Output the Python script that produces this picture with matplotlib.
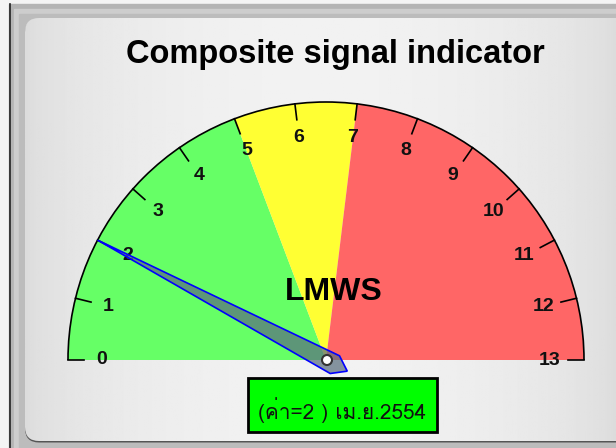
import numpy as np
import matplotlib
matplotlib.use("Agg")
import matplotlib.pyplot as plt
from matplotlib.patches import Wedge, Polygon, Circle, Rectangle, FancyBboxPatch, Arc
from matplotlib import font_manager, ft2font

# data
title = "Composite signal indicator"
center_label = "LMWS"
vmin, vmax = 0, 13
tick_values = list(range(0, 14))
band_edges = [0, 5, 7, 13]
band_colors = ["#66ff66", "#ffff33", "#ff6666"]
needle_value = 2
info_text = "(ค่า=2 ) เม.ย.2554"


def find_thai_font():
    # look for any installed font that has Thai glyphs
    for f in font_manager.fontManager.ttflist:
        try:
            cm = ft2font.FT2Font(f.fname).get_charmap()
        except Exception:
            continue
        if ord("ค") in cm and ord("่") in cm:
            return f.name
    return None


thai = find_thai_font()

W, H = 616, 448
fig = plt.figure(figsize=(W / 100, H / 100), dpi=100)
ax = fig.add_axes([0, 0, 1, 1])
ax.set_xlim(0, W)
ax.set_ylim(0, H)
ax.axis("off")

# outer frame
ax.add_patch(Rectangle((0, 0), W, H, color="#f4f4f4", zorder=0))
ax.add_patch(Rectangle((9, 0), W, H - 4, color="#b4b4b4", zorder=0))
ax.plot([9.5, 9.5], [0, H - 4], color="#222222", lw=1.2, zorder=0.5)
ax.add_patch(Rectangle((14, 0), W, H - 9, color="#cdcdcd", zorder=0.6))
ax.add_patch(Rectangle((19, 0), W, H - 14, color="#bcbcbc", zorder=0.7))

# panel with gradient
panel = FancyBboxPatch((25, 7), W, H - 25, boxstyle="round,pad=0,rounding_size=14",
                       facecolor="none", edgecolor="none", zorder=1)
ax.add_patch(panel)
ax.add_patch(FancyBboxPatch((25, 5.5), W, H - 25, boxstyle="round,pad=0,rounding_size=14",
                            facecolor="#555555", edgecolor="none", zorder=0.9))
xs = np.linspace(0, 1, 300)
grad = 0.86 + 0.088 * np.sin(np.pi * xs) ** 0.6
img = ax.imshow(np.tile(grad, (2, 1)), cmap="gray", vmin=0, vmax=1, aspect="auto",
                extent=(25, W, 7, H - 18), zorder=1)
img.set_clip_path(panel)

cx, cy, R = 326, 88, 258


def ang(v):
    return 180 - (v - vmin) * 180 / (vmax - vmin)


# colour bands
for i, col in enumerate(band_colors):
    ax.add_patch(Wedge((cx, cy), R, ang(band_edges[i + 1]), ang(band_edges[i]),
                       facecolor=col, edgecolor="none", zorder=2))
ax.add_patch(Arc((cx, cy), 2 * R, 2 * R, theta1=0, theta2=180, color="black", lw=1.2, zorder=3))

# ticks and labels
for v in tick_values:
    a = np.radians(ang(v))
    ax.plot([cx + R * np.cos(a), cx + (R - 16) * np.cos(a)],
            [cy + R * np.sin(a), cy + (R - 16) * np.sin(a)], color="black", lw=1.2, zorder=3)
    ax.text(cx + 224 * np.cos(a), cy + 224 * np.sin(a), str(v), ha="center", va="center",
            fontsize=14, fontweight="bold", family="Liberation Sans", color="#111111", zorder=4)

ax.text(335, 394, title, ha="center", va="center", fontsize=23.5, fontweight="bold",
        family="Liberation Sans", zorder=4)
ax.text(334, 156, center_label, ha="center", va="center", fontsize=23, fontweight="bold",
        family="Liberation Sans", zorder=4)

# needle
a = np.radians(ang(needle_value))
d = np.array([np.cos(a), np.sin(a)])
p = np.array([-np.sin(a), np.cos(a)])
shape = [(R, 0), (-10, 10), (-24, 0), (-10, -10)]
pts = [(cx + u * d[0] + w * p[0], cy + u * d[1] + w * p[1]) for u, w in shape]
ax.add_patch(Polygon(pts, closed=True, facecolor="#5a6e80", alpha=0.72, edgecolor="none", zorder=5))
ax.add_patch(Polygon(pts, closed=True, facecolor="none", edgecolor="#0000ff", lw=1.2, zorder=5))
ax.add_patch(Circle((cx + 1, cy), 5, facecolor="white", edgecolor="#333333", lw=1.5, zorder=6))

# value box
ax.add_patch(Rectangle((248, 16), 189, 54, facecolor="#00ff00", edgecolor="black", lw=2, zorder=5))
fam = [thai, "DejaVu Sans"] if thai else ["DejaVu Sans"]
ax.text(342, 38, info_text, ha="center", va="center", fontsize=15, family=fam,
        color="#111111", zorder=6)

fig.savefig("out.png", dpi=100)
